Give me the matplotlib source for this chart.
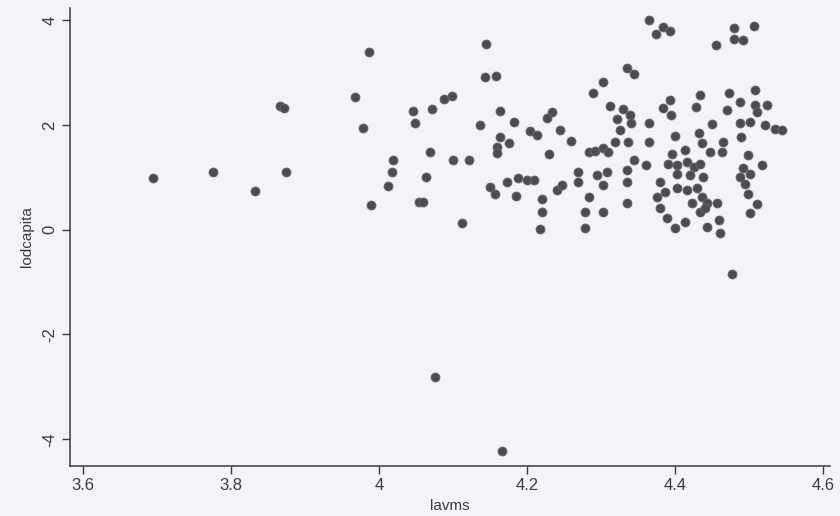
import matplotlib
matplotlib.use('Agg')
import matplotlib.pyplot as plt

# lavms (x) and lodcapita (y)
LAVMS = [
    # left, sparse part
    3.695, 3.776, 3.832, 3.866, 3.872, 3.874, 3.968, 3.978, 3.986, 3.989,
    4.012, 4.018, 4.019, 4.046, 4.049, 4.054,
    # top cluster
    4.365, 4.384, 4.393, 4.374, 4.479, 4.506, 4.479, 4.492, 4.455,
    4.145, 4.143, 4.158, 4.335, 4.344, 4.302, 4.289, 4.088, 4.098, 4.071,
    4.164, 4.182, 4.137, 4.233, 4.227, 4.204, 4.213, 4.244, 4.164, 4.175,
    4.159, 4.160, 4.260, 4.312, 4.329, 4.321, 4.339, 4.341, 4.326, 4.319,
    4.337, 4.365, 4.365, 4.383, 4.393, 4.394, 4.433, 4.428, 4.473, 4.508,
    4.488, 4.470, 4.508, 4.524, 4.510, 4.450, 4.432, 4.436, 4.447, 4.463,
    4.465, 4.488, 4.501, 4.522, 4.535, 4.544, 4.489, 4.400, 4.414, 4.396,
    # middle band
    4.069, 4.100, 4.122, 4.230, 4.283, 4.292, 4.302, 4.310, 4.064, 4.150,
    4.157, 4.173, 4.188, 4.200, 4.209, 4.185, 4.240, 4.247, 4.220, 4.220,
    4.217, 4.269, 4.269, 4.294, 4.308, 4.302, 4.283, 4.278, 4.278, 4.302,
    4.335, 4.335, 4.335, 4.344, 4.361, 4.391, 4.402, 4.416, 4.425, 4.434,
    4.438, 4.420, 4.402, 4.380, 4.387, 4.402, 4.416, 4.429, 4.436, 4.443,
    4.456, 4.375, 4.380, 4.389, 4.400, 4.414, 4.423, 4.434, 4.441, 4.443,
    4.459, 4.461, 4.499, 4.517, 4.492, 4.501, 4.488, 4.495, 4.499, 4.510,
    4.501, 4.059, 4.112,
    # outliers
    4.477, 4.076, 4.166,
]
LODCAPITA = [
    0.98, 1.10, 0.74, 2.36, 2.32, 1.10, 2.53, 1.94, 3.39, 0.47,
    0.83, 1.10, 1.33, 2.26, 2.03, 0.53,
    4.00, 3.87, 3.80, 3.73, 3.84, 3.885, 3.63, 3.62, 3.52,
    3.55, 2.91, 2.93, 3.08, 2.98, 2.82, 2.61, 2.50, 2.55, 2.31,
    2.27, 2.06, 1.99, 2.25, 2.14, 1.89, 1.81, 1.91, 1.77, 1.65,
    1.58, 1.47, 1.70, 2.36, 2.31, 2.12, 2.19, 2.03, 1.90, 1.68,
    1.68, 2.04, 1.68, 2.33, 2.47, 2.19, 2.57, 2.35, 2.61, 2.66,
    2.44, 2.28, 2.38, 2.38, 2.25, 2.02, 1.84, 1.65, 1.49, 1.49,
    1.68, 2.03, 2.06, 1.99, 1.93, 1.90, 1.76, 1.79, 1.52, 1.44,
    1.49, 1.33, 1.33, 1.44, 1.49, 1.51, 1.55, 1.49, 1.01, 0.82,
    0.69, 0.915, 0.98, 0.95, 0.95, 0.64, 0.76, 0.85, 0.58, 0.34,
    0.02, 1.10, 0.90, 1.04, 1.10, 0.85, 0.63, 0.34, 0.04, 0.34,
    1.14, 0.90, 0.50, 1.33, 1.23, 1.26, 1.23, 1.30, 1.20, 1.26,
    1.01, 1.04, 1.07, 0.90, 0.72, 0.79, 0.76, 0.79, 0.63, 0.50,
    0.50, 0.63, 0.41, 0.22, 0.04, 0.15, 0.50, 0.34, 0.41, 0.06,
    0.18, -0.06, 1.42, 1.23, 1.17, 1.07, 1.01, 0.88, 0.69, 0.49,
    0.31, 0.53, 0.13,
    -0.85, -2.81, -4.23,
]
X_TICKS = [3.6, 3.8, 4.0, 4.2, 4.4, 4.6]
X_TICK_LABELS = ['3.6', '3.8', '4', '4.2', '4.4', '4.6']
Y_TICKS = [-4, -2, 0, 2, 4]
Y_TICK_LABELS = ['-4', '-2', '0', '2', '4']

plt.rcParams['font.family'] = ['Liberation Sans', 'DejaVu Sans']

BG = '#f4f4f8'
INK = '#3a3a3a'

fig = plt.figure(figsize=(8.4, 5.16), dpi=100, facecolor=BG)
ax = fig.add_axes([0.0833, 0.0969, 0.905, 0.8876], facecolor=BG)

ax.scatter(LAVMS, LODCAPITA, s=42, color='#4d4d4f', edgecolors='#6a6a6e',
           linewidths=0.6, zorder=3)

ax.set_xlim(3.5824, 4.6095)
ax.set_ylim(-4.51, 4.23)

ax.set_xticks(X_TICKS)
ax.set_xticklabels(X_TICK_LABELS)
ax.set_yticks(Y_TICKS)
ax.set_yticklabels(Y_TICK_LABELS, rotation=90, va='center')

for side in ('top', 'right'):
    ax.spines[side].set_visible(False)
for side in ('left', 'bottom'):
    ax.spines[side].set_color(INK)
    ax.spines[side].set_linewidth(1.1)

ax.tick_params(axis='both', direction='out', length=6, width=1.0,
               colors=INK, labelsize=12, pad=3)

ax.set_xlabel('lavms', fontsize=11, color=INK, labelpad=4)
ax.set_ylabel('lodcapita', fontsize=11, color=INK, labelpad=6)

fig.savefig('out.png', dpi=100, facecolor=BG)
